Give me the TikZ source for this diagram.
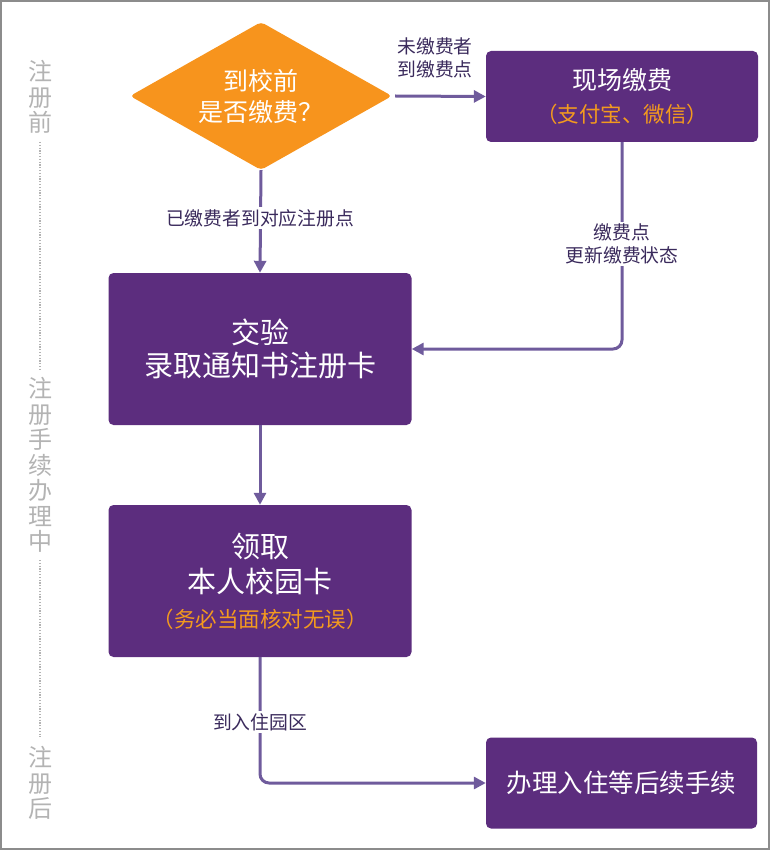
\documentclass[tikz,border=0pt]{standalone}
\usepackage{fontspec}
\setmainfont{Noto Sans CJK SC}
\usetikzlibrary{shapes.geometric,arrows.meta}
\definecolor{boxpurple}{HTML}{5C2D7E}
\definecolor{diaorange}{HTML}{F7941D}
\definecolor{txtorange}{HTML}{F39A1E}
\definecolor{arrowpurple}{HTML}{6F5B9C}
\definecolor{lbltext}{HTML}{3A2A5C}
\definecolor{sidegray}{HTML}{B3B3B3}
\definecolor{framegray}{HTML}{8C8C8C}
\tikzset{
  pbox/.style={draw=none,fill=boxpurple,rounded corners=5pt,text=white,align=center,inner sep=0pt},
  conn/.style={draw=arrowpurple,line width=3pt,-{Triangle[length=12pt,width=12pt]}},
  lbl/.style={text=lbltext,align=center,font=\fontsize{18.8}{22.5}\selectfont,inner sep=2pt},
  side/.style={text=sidegray,align=center,font=\fontsize{24}{25.5}\selectfont},
  sideline/.style={draw=sidegray,line width=1.2pt,dash pattern=on 1.2pt off 1.6pt}
}
\begin{document}
\begin{tikzpicture}[x=1pt,y=-1pt]
\useasboundingbox (0,0) rectangle (770,850);
\draw[framegray,line width=2pt] (1,1) rectangle (769,849);

% side labels
\node[side] (s1) at (40,97) {注\\册\\前};
\node[side] (s2) at (40,465) {注\\册\\手\\续\\办\\理\\中};
\node[side] (s3) at (40,783) {注\\册\\后};
\coordinate (d1a) at (40,142);
\coordinate (d1b) at (40,370);
\coordinate (d2a) at (40,560);
\coordinate (d2b) at (40,737);
\draw[sideline] (d1a) -- (d1b);
\draw[sideline] (d2a) -- (d2b);

% nodes
\node[diamond,fill=diaorange,draw=none,rounded corners=4pt,aspect=1.77,
      minimum width=262pt,minimum height=148pt,inner sep=0pt,
      text=white,align=center,font=\fontsize{25}{31}\selectfont] (dia) at (261,96)
      {到校前\\是否缴费？};
\node[pbox,minimum width=272pt,minimum height=91pt,font=\fontsize{25}{33}\selectfont] (pay) at (622,96.5)
      {现场缴费\\{\fontsize{21.5}{33}\selectfont\color{txtorange}（支付宝、微信）}};
\node[pbox,minimum width=303pt,minimum height=152pt,font=\fontsize{29}{33}\selectfont] (verify) at (260,349)
      {交验\\录取通知书注册卡};
\node[pbox,minimum width=303pt,minimum height=152pt,font=\fontsize{29}{35}\selectfont] (card) at (260,581)
      {领取\\本人校园卡\\{\fontsize{21.5}{35}\selectfont\color{txtorange}（务必当面核对无误）}};
\node[pbox,minimum width=271pt,minimum height=91pt,font=\fontsize{25.5}{30}\selectfont] (checkin) at (621.5,783)
      {办理入住等后续手续};

% connectors
\draw[conn] (dia.east) ++(3pt,0) -- (pay.west);
\node[lbl] (l1) at (435,58) {未缴费者\\到缴费点};

\draw[conn] (dia.south) -- (verify.north);
\node[lbl,fill=white] (l2) at (260,218) {已缴费者到对应注册点};

\draw[conn,rounded corners=9pt] (pay.south) |- (verify.east);
\node[lbl,fill=white] (l3) at (622,244) {缴费点\\更新缴费状态};

\draw[conn] (verify.south) -- (card.north);

\draw[conn,rounded corners=9pt] (card.south) |- (checkin.west);
\node[lbl,fill=white] (l4) at (260,722) {到入住园区};
\end{tikzpicture}
\end{document}
